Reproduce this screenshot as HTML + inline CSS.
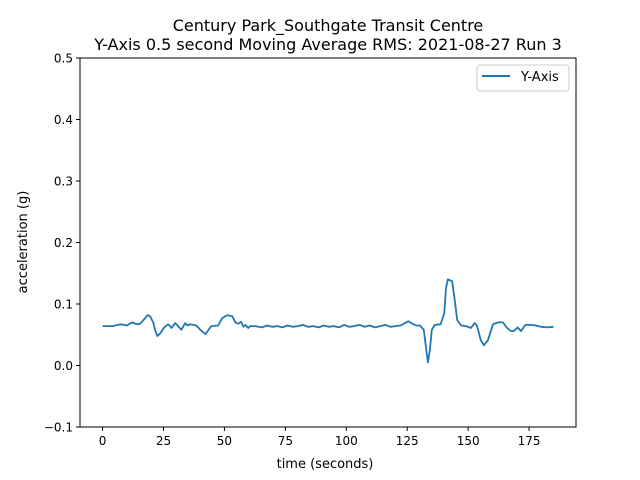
<!DOCTYPE html>
<html><head><meta charset="utf-8"><style>
body{margin:0;background:#fff;}
svg{display:block;font-family:"DejaVu Sans","Liberation Sans",sans-serif;}
</style></head><body>
<svg id="chart" width="640" height="480" viewBox="0 0 640 480">
<rect width="640" height="480" fill="#fff"/>
<text x="328" y="31" font-size="16" text-anchor="middle">Century Park_Southgate Transit Centre</text>
<text x="328" y="50" font-size="16" text-anchor="middle">Y-Axis 0.5 second Moving Average RMS: 2021-08-27 Run 3</text>
<g id="axes"></g>
<text x="325" y="468" font-size="13" text-anchor="middle">time (seconds)</text>
<text transform="translate(27,242) rotate(-90)" font-size="13" text-anchor="middle">acceleration (g)</text>
<g>
<rect x="477" y="65" width="92" height="26" rx="3" fill="#fff" stroke="#ccc"/>
<line x1="482" y1="76" x2="510" y2="76" stroke="#1f77b4" stroke-width="2"/>
<text x="521" y="81" font-size="13">Y-Axis</text>
</g>
</svg>
<script>
const times=[0,4.2,7.4,10,12.1,14.2,15.4,17.5,18.5,19.5,20.8,21.6,22.5,23.6,25.3,26.9,27.7,28.3,29.8,31,32.3,33.9,34.8,35.8,38.5,40.1,42.2,44.6,47.4,49.1,51.2,53.2,54.5,55.7,56.9,57.8,58.6,59.8,60.6,62.7,65.4,67.5,69.6,71.7,73.8,75.9,78,80.1,82.2,84.3,86.5,88.6,90.7,92.8,94.9,97,99.1,101.2,103.3,105.4,107.5,109.6,111.8,113.9,116,118.1,120.2,122.3,125.5,127.1,128.6,130.2,131.8,132.6,133.5,134.3,135.1,136.3,138.7,140.2,140.9,141.7,143.4,144.5,145.5,147.1,149.2,151.1,152.7,153.6,155.2,156.5,158.1,160.2,162.2,164.3,166,167.6,168.7,170.3,171.7,173.5,175.8,177.7,179.9,182.4,185];
const values=[0.064,0.064,0.067,0.065,0.07,0.067,0.068,0.077,0.082,0.08,0.07,0.057,0.048,0.052,0.062,0.067,0.064,0.061,0.069,0.064,0.058,0.069,0.065,0.067,0.065,0.058,0.051,0.064,0.065,0.077,0.082,0.08,0.07,0.068,0.071,0.063,0.066,0.061,0.064,0.064,0.062,0.065,0.063,0.064,0.062,0.065,0.063,0.064,0.066,0.063,0.064,0.062,0.065,0.063,0.064,0.062,0.066,0.063,0.064,0.066,0.063,0.065,0.062,0.064,0.066,0.063,0.064,0.065,0.072,0.068,0.065,0.065,0.058,0.033,0.005,0.025,0.058,0.066,0.067,0.085,0.126,0.14,0.137,0.107,0.074,0.065,0.064,0.061,0.069,0.065,0.041,0.033,0.041,0.067,0.07,0.07,0.061,0.056,0.056,0.062,0.056,0.066,0.066,0.065,0.063,0.062,0.063];
const xTicks=[0,25,50,75,100,125,150,175];
const yTicks=[-0.1,0.0,0.1,0.2,0.3,0.4,0.5];
const yLabels=["\u22120.1","0.0","0.1","0.2","0.3","0.4","0.5"];
const L=80,R=576,T=58,B=427,xmin=-9.25,xmax=194.25,ymin=-0.1,ymax=0.5;
const X=t=>L+(t-xmin)/(xmax-xmin)*(R-L);
const Y=v=>B-(v-ymin)/(ymax-ymin)*(B-T);
const g=document.getElementById('axes');
const NS='http://www.w3.org/2000/svg';
function mk(tag,a){const e=document.createElementNS(NS,tag);for(const k in a)e.setAttribute(k,a[k]);g.appendChild(e);return e;}
let d=times.map((t,i)=>(i?'L':'M')+X(t).toFixed(1)+','+Y(values[i]).toFixed(1)).join('');
const line=mk('path',{d:d,fill:'none',stroke:'#1f77b4','stroke-width':1.8,'stroke-linejoin':'round'});


xTicks.forEach(t=>{
 const tk=mk('line',{x1:X(t),x2:X(t),y1:B,y2:B+4,stroke:'#000'});
 
 
 const tx=mk('text',{x:X(t),y:B+18,'font-size':12,'text-anchor':'middle'});tx.textContent=t;
 
 
});
yTicks.forEach((v,i)=>{
 const tk=mk('line',{x1:L-4,x2:L,y1:Y(v),y2:Y(v),stroke:'#000'});
 
 
 const tx=mk('text',{x:L-7,y:Y(v)+4.5,'font-size':12,'text-anchor':'end'});tx.textContent=yLabels[i];
 
 
});
const fr=mk('rect',{x:L,y:T,width:R-L,height:B-T,fill:'none',stroke:'#000','stroke-width':1});


</script>
</body></html>
